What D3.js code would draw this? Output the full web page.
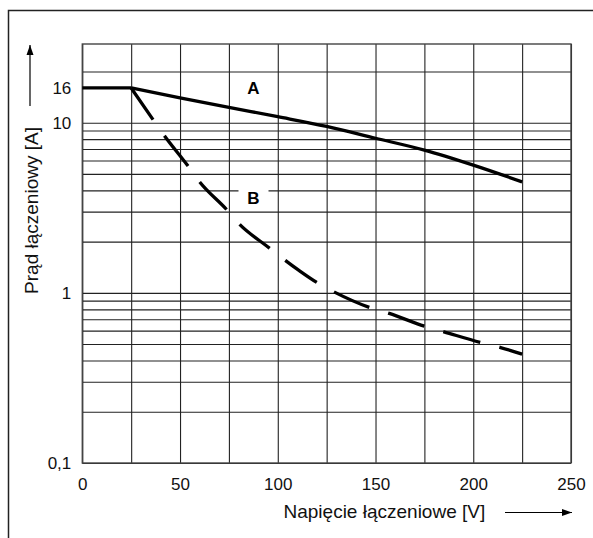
<!DOCTYPE html>
<html><head><meta charset="utf-8">
<script src="https://cdn.jsdelivr.net/npm/d3@7"></script>
<style>
body{margin:0;background:#fff;}
svg{display:block;font-family:"Liberation Sans",Arial,sans-serif;}
</style></head>
<body>
<svg id="c" width="593" height="538"></svg>
<script>
// ---- data ----
const xTicks = [0, 50, 100, 150, 200, 250];
const xGrid = [0, 25, 50, 75, 100, 125, 150, 175, 200, 225, 250];
const yLabelTicks = [0.1, 1, 10, 16];
const yLabelText = ["0,1", "1", "10", "16"];
const yGrid = [0.1,0.2,0.3,0.4,0.5,0.6,0.7,0.8,0.9,1,2,3,4,5,6,7,8,9,10,20];
const aFlatVolt = [0, 25];
const aFlatCurr = [16, 16];
const aVolt = [25, 50, 75, 100, 125, 150, 175, 200, 225];
const aCurr = [16, 14.0, 12.3, 10.84, 9.5, 8.1, 6.9, 5.63, 4.49];
const bVolt = [25, 36, 42, 54, 60, 74, 80, 95, 111, 120, 129, 147, 157, 175, 185, 204, 214, 225];
const bCurr = [16, 10.5, 8.38, 5.58, 4.49, 3.07, 2.56, 1.86, 1.35, 1.15, 1.01, 0.82, 0.757, 0.637, 0.59, 0.51, 0.477, 0.436];
const xTitle = "Napięcie łączeniowe [V]";
const yTitle = "Prąd łączeniowy [A]";

const svg = d3.select("#c");
const L = 82.3, R = 571, T = 44, B = 463;
const x = d3.scaleLinear().domain([0, 250]).range([L, R]);
const y = d3.scaleLog().domain([0.1, 29]).range([B, T]);

// outer frame
svg.append("rect").attr("x", 8.5).attr("y", 10.5).attr("width", 620).attr("height", 600)
  .attr("fill", "none").attr("stroke", "#222").attr("stroke-width", 1.5);

// grid via axes
const gx = svg.append("g").attr("transform", `translate(0,${B})`)
  .call(d3.axisBottom(x).tickValues(xGrid).tickFormat("").tickSizeInner(-(B - T)).tickSizeOuter(0));
gx.select(".domain").remove();
gx.selectAll("line").attr("stroke", "#222").attr("stroke-width", 1.1);

const gy = svg.append("g").attr("transform", `translate(${L},0)`)
  .call(d3.axisLeft(y).tickValues(yGrid).tickFormat("").tickSizeInner(-(R - L)).tickSizeOuter(0));
gy.select(".domain").remove();
gy.selectAll("line").attr("stroke", "#222").attr("stroke-width", 1.1);

// plot border
svg.append("rect").attr("x", L).attr("y", T).attr("width", R - L).attr("height", B - T)
  .attr("fill", "none").attr("stroke", "#444").attr("stroke-width", 1.4);

// tick labels
const lx = svg.append("g").attr("transform", `translate(0,${B})`)
  .call(d3.axisBottom(x).tickValues(xTicks).tickFormat(d3.format("d")).tickSize(0).tickPadding(15));
lx.select(".domain").remove();
lx.selectAll("text").attr("font-size", 17).attr("fill", "#111").attr("font-family", "Liberation Sans, Arial, sans-serif");

const ly = svg.append("g").attr("transform", `translate(${L},0)`)
  .call(d3.axisLeft(y).tickValues(yLabelTicks).tickFormat(d => yLabelText[yLabelTicks.indexOf(d)]).tickSize(0).tickPadding(11));
ly.select(".domain").remove();
ly.selectAll("text").attr("font-size", 17).attr("fill", "#111").attr("font-family", "Liberation Sans, Arial, sans-serif");

// curves
const pts = (vs, cs) => vs.map((v, i) => [v, cs[i]]);
const lin = d3.line().x(d => x(d[0])).y(d => y(d[1])).curve(d3.curveLinear);
const smooth = d3.line().x(d => x(d[0])).y(d => y(d[1])).curve(d3.curveMonotoneX);
svg.append("path").attr("d", lin(pts(aFlatVolt, aFlatCurr))).attr("fill", "none").attr("stroke", "#000").attr("stroke-width", 3.3);
svg.append("path").attr("d", smooth(pts(aVolt, aCurr))).attr("fill", "none").attr("stroke", "#000").attr("stroke-width", 3.3);
svg.append("path").attr("d", smooth(pts(bVolt, bCurr))).attr("fill", "none").attr("stroke", "#000").attr("stroke-width", 3.3)
  .attr("stroke-dasharray", "38.5,19.7");

// curve labels with white background
function label(t, cx, by) {
  svg.append("rect").attr("x", cx - 15).attr("y", by - 16).attr("width", 30).attr("height", 20).attr("fill", "#fff");
  svg.append("text").attr("x", cx).attr("y", by).attr("text-anchor", "middle")
    .attr("font-size", 17).attr("font-weight", "bold").attr("fill", "#000").text(t);
}
label("A", 253.5, 93.5);
label("B", 253.5, 203.5);

// axis titles and arrows
svg.append("defs").append("marker").attr("id", "ah").attr("viewBox", "0 0 10 10")
  .attr("refX", 10).attr("refY", 5).attr("markerWidth", 10).attr("markerHeight", 10)
  .attr("markerUnits", "userSpaceOnUse").attr("orient", "auto")
  .append("path").attr("d", "M0,1.5 L10,5 L0,8.5 Z").attr("fill", "#000");

svg.append("text").attr("x", 283.5).attr("y", 518).attr("font-size", 19).attr("fill", "#111").text(xTitle);
svg.append("line").attr("x1", 505).attr("x2", 572).attr("y1", 512.5).attr("y2", 512.5)
  .attr("stroke", "#000").attr("stroke-width", 1.2).attr("marker-end", "url(#ah)");

svg.append("text").attr("transform", "translate(38,210.5) rotate(-90)").attr("text-anchor", "middle")
  .attr("font-size", 19).attr("fill", "#111").text(yTitle);
svg.append("line").attr("x1", 30).attr("x2", 30).attr("y1", 106).attr("y2", 45)
  .attr("stroke", "#000").attr("stroke-width", 1.2).attr("marker-end", "url(#ah)");
</script>
</body></html>
